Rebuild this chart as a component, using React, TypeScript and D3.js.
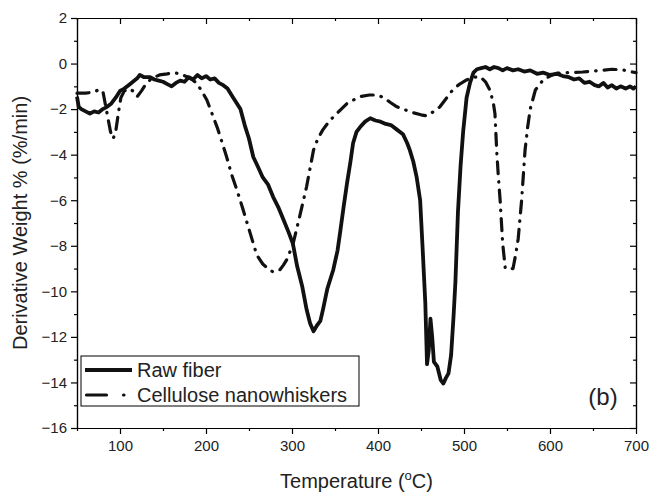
import React, { useEffect, useRef } from 'react';
import * as d3 from 'd3';

// Raw fiber DTG curve (temperature in C, derivative weight in %/min)
const rawTemp = [50, 52, 55, 60, 65, 70, 75, 80, 85, 90, 95, 100, 105, 110, 115, 120, 123, 128, 135, 140, 145, 150, 155, 160, 165, 170, 175, 180, 185, 190, 195, 200, 205, 210, 215, 220, 225, 230, 235, 240, 245, 250, 255, 260, 266, 272, 278, 284, 290, 296, 301, 306, 312, 317, 321, 325, 329, 333, 336, 341, 348, 353, 356, 360, 364, 368, 371, 375, 379, 385, 391, 397, 403, 409, 415, 422, 429, 434, 437, 441, 445, 449, 452, 455, 457, 459, 461, 463, 465, 469, 473, 476, 479, 482, 485, 488, 490, 493, 496, 499, 503, 507, 511, 515, 520, 525, 530, 535, 540, 545, 550, 557, 563, 570, 577, 585, 592, 600, 608, 615, 622, 628, 634, 640, 646, 652, 657, 662, 667, 672, 677, 682, 688, 693, 697, 700];
const rawDeriv = [-1.45, -1.9, -2.0, -2.1, -2.2, -2.1, -2.15, -2.0, -1.9, -1.75, -1.5, -1.2, -1.1, -0.95, -0.8, -0.65, -0.5, -0.6, -0.6, -0.7, -0.75, -0.8, -0.9, -1.0, -0.85, -0.75, -0.8, -0.6, -0.7, -0.5, -0.65, -0.55, -0.7, -0.65, -0.85, -0.95, -1.1, -1.4, -1.7, -2.0, -2.7, -3.3, -4.1, -4.5, -5.0, -5.3, -5.85, -6.3, -6.85, -7.4, -7.9, -8.9, -9.8, -10.8, -11.4, -11.75, -11.5, -11.3, -10.8, -9.9, -9.05, -8.2, -7.4, -6.3, -5.25, -4.3, -3.5, -3.0, -2.8, -2.55, -2.4, -2.5, -2.55, -2.65, -2.7, -2.9, -3.1, -3.5, -3.8, -4.3, -5.0, -6.0, -8.2, -10.5, -13.2, -12.6, -11.2, -12.0, -13.1, -13.3, -13.9, -14.05, -13.8, -13.6, -12.8, -11.0, -9.6, -6.5, -4.5, -3.0, -1.5, -0.85, -0.4, -0.25, -0.2, -0.15, -0.25, -0.15, -0.2, -0.3, -0.2, -0.3, -0.25, -0.35, -0.3, -0.45, -0.4, -0.5, -0.45, -0.55, -0.6, -0.7, -0.65, -0.85, -0.8, -0.95, -1.0, -0.85, -1.05, -0.95, -1.1, -1.0, -1.1, -1.0, -1.1, -1.0];

// Cellulose nanowhiskers DTG curve
const cnwTemp = [50, 60, 70, 75, 80, 85, 89, 92, 95, 98, 101, 105, 110, 115, 120, 125, 130, 135, 140, 146, 155, 162, 170, 178, 184, 189, 195, 201, 207, 213, 219, 224, 230, 236, 243, 251, 259, 266, 272, 278, 286, 290, 294, 301, 309, 317, 325, 330, 336, 344, 352, 364, 379, 390, 399, 407, 414, 422, 429, 440, 450, 457, 465, 472, 480, 487, 495, 503, 511, 519, 525, 530, 534, 536, 538, 540, 542, 545, 548, 557, 560, 563, 567, 571, 574, 577, 583, 592, 600, 608, 620, 638, 660, 672, 685, 693, 700];
const cnwDeriv = [-1.3, -1.3, -1.25, -1.15, -1.2, -2.2, -3.0, -3.3, -3.0, -2.2, -1.5, -1.2, -1.1, -1.2, -1.45, -1.2, -0.9, -0.72, -0.6, -0.5, -0.45, -0.4, -0.45, -0.58, -0.7, -0.86, -1.2, -1.6, -2.2, -2.8, -3.5, -4.1, -4.9, -5.55, -6.4, -7.4, -8.4, -8.8, -9.0, -9.15, -9.05, -8.85, -8.6, -7.95, -6.7, -5.4, -3.8, -3.3, -2.9, -2.5, -2.2, -1.75, -1.45, -1.38, -1.38, -1.5, -1.7, -1.9, -2.0, -2.15, -2.25, -2.3, -2.1, -1.9, -1.5, -1.15, -0.9, -0.72, -0.6, -0.58, -0.8, -1.16, -1.7, -2.2, -3.8, -5.0, -6.0, -7.9, -9.0, -9.0, -8.4, -7.7, -6.0, -3.8, -2.8, -2.0, -1.16, -0.72, -0.55, -0.42, -0.4, -0.37, -0.3, -0.25, -0.28, -0.35, -0.4];

const xTicks = [100, 200, 300, 400, 500, 600, 700];
const xMinor = [50, 150, 250, 350, 450, 550, 650];
const yTicks = [-16, -14, -12, -10, -8, -6, -4, -2, 0, 2];
const yMinor = [-15, -13, -11, -9, -7, -5, -3, -1, 1];

const seriesNames = ['Raw fiber', 'Cellulose nanowhiskers'];

const W = 650;
const H = 495;
const margin = { top: 18, right: 14, bottom: 67, left: 77 };
const FONT = '"Liberation Sans", Arial, Helvetica, sans-serif';
const DASHDOT = '12 8 0.5 8';

const App = () => {
  const svgRef = useRef<SVGSVGElement>(null);

  useEffect(() => {
    const svg = d3.select(svgRef.current);
    svg.selectAll('*').remove();

    const iw = W - margin.left - margin.right;
    const ih = H - margin.top - margin.bottom;

    const x = d3.scaleLinear().domain([50, 700]).range([0, iw]);
    const y = d3.scaleLinear().domain([-16, 2]).range([ih, 0]);

    const g = svg.append('g').attr('transform', `translate(${margin.left},${margin.top})`);

    // major + minor ticks on all four sides, outward on left/bottom, inward on top/right
    const styleAxis = (sel) => {
      sel.selectAll('path').attr('stroke', '#000').attr('stroke-width', 1.2);
      sel.selectAll('line').attr('stroke', '#000').attr('stroke-width', 1.2);
      sel.selectAll('text').attr('font-family', FONT).attr('font-size', 15).attr('fill', '#222');
    };

    const bottom = g.append('g').attr('transform', `translate(0,${ih})`)
      .call(d3.axisBottom(x).tickValues(xTicks).tickSize(6).tickSizeOuter(0).tickPadding(6).tickFormat(d3.format('d')));
    bottom.append('g').call(d3.axisBottom(x).tickValues(xMinor).tickSize(3).tickSizeOuter(0).tickFormat(() => ''));
    styleAxis(bottom);

    const left = g.append('g')
      .call(d3.axisLeft(y).tickValues(yTicks).tickSize(6).tickSizeOuter(0).tickPadding(4).tickFormat(d3.format('d')));
    left.append('g').call(d3.axisLeft(y).tickValues(yMinor).tickSize(3).tickSizeOuter(0).tickFormat(() => ''));
    styleAxis(left);

    const top = g.append('g')
      .call(d3.axisTop(x).tickValues(xTicks).tickSize(-6).tickSizeOuter(0).tickFormat(() => ''));
    top.append('g').call(d3.axisTop(x).tickValues(xMinor).tickSize(-3).tickSizeOuter(0).tickFormat(() => ''));
    styleAxis(top);

    const right = g.append('g').attr('transform', `translate(${iw},0)`)
      .call(d3.axisRight(y).tickValues(yTicks).tickSize(-6).tickSizeOuter(0).tickFormat(() => ''));
    right.append('g').call(d3.axisRight(y).tickValues(yMinor).tickSize(-3).tickSizeOuter(0).tickFormat(() => ''));
    styleAxis(right);

    const line = d3.line<[number, number]>()
      .x(d => x(d[0]))
      .y(d => y(d[1]));

    const rawPts = rawTemp.map((t, i) => [t, rawDeriv[i]] as [number, number]);
    const cnwPts = cnwTemp.map((t, i) => [t, cnwDeriv[i]] as [number, number]);

    g.append('path')
      .attr('d', line(cnwPts))
      .attr('fill', 'none')
      .attr('stroke', '#111')
      .attr('stroke-width', 3.2)
      .attr('stroke-linecap', 'round')
      .attr('stroke-linejoin', 'round')
      .attr('stroke-dasharray', DASHDOT);

    g.append('path')
      .attr('d', line(rawPts))
      .attr('fill', 'none')
      .attr('stroke', '#111')
      .attr('stroke-width', 3.8)
      .attr('stroke-linejoin', 'round');

    // legend box, lower left
    const lg = svg.append('g').attr('transform', 'translate(81,356)');
    lg.append('rect').attr('width', 278).attr('height', 50)
      .attr('fill', '#fff').attr('stroke', '#000').attr('stroke-width', 1);
    lg.append('line').attr('x1', 4).attr('x2', 51).attr('y1', 14).attr('y2', 14)
      .attr('stroke', '#111').attr('stroke-width', 3.8);
    lg.append('line').attr('x1', 5.5).attr('x2', 51).attr('y1', 39).attr('y2', 39)
      .attr('stroke', '#111').attr('stroke-width', 3.2).attr('stroke-linecap', 'round')
      .attr('stroke-dasharray', '20 17 0.5 30');
    seriesNames.forEach((name, i) => {
      lg.append('text').attr('x', 56).attr('y', 21 + i * 25)
        .attr('font-family', FONT).attr('font-size', 20).attr('fill', '#222')
        .text(name);
    });

    // panel letter
    svg.append('text').attr('x', 603).attr('y', 405).attr('text-anchor', 'middle')
      .attr('font-family', FONT).attr('font-size', 24).attr('fill', '#222').text('(b)');

    // axis titles
    const xt = svg.append('text').attr('x', margin.left + iw / 2).attr('y', 488)
      .attr('text-anchor', 'middle').attr('font-family', FONT).attr('font-size', 20).attr('fill', '#222');
    xt.append('tspan').text('Temperature (');
    xt.append('tspan').attr('font-size', 13).attr('dy', -8).text('o');
    xt.append('tspan').attr('dy', 8).text('C)');

    svg.append('text')
      .attr('transform', `translate(27,${margin.top + ih / 2}) rotate(-90)`)
      .attr('text-anchor', 'middle').attr('font-family', FONT).attr('font-size', 20).attr('fill', '#222')
      .text('Derivative Weight % (%/min)');
  }, []);

  return (
    <svg ref={svgRef} width={W} height={H}
      style={{ position: 'absolute', left: 0, top: 0, background: '#fff' }}></svg>
  );
};

export default App;
